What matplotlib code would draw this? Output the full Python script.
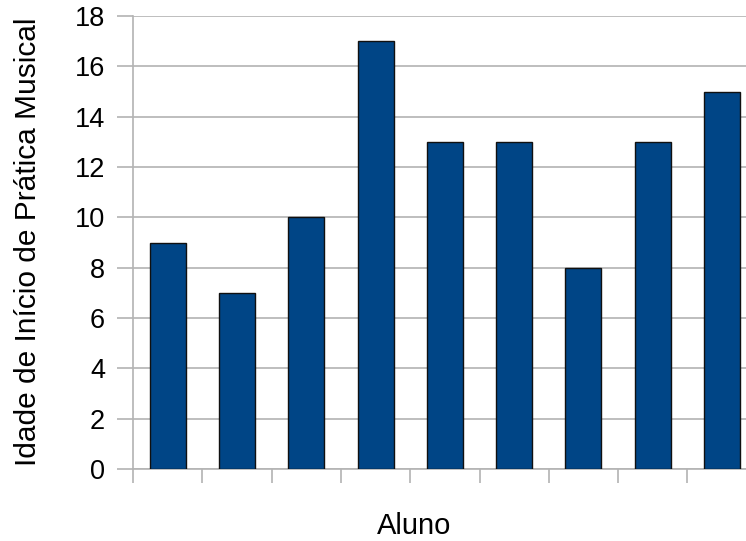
import matplotlib
matplotlib.use("Agg")
import matplotlib.pyplot as plt
import numpy as np

plt.rcParams['font.family'] = ['Liberation Sans', 'DejaVu Sans']

# Age at which each student started musical practice
alunos = ["1", "2", "3", "4", "5", "6", "7", "8", "9"]
idades = [9, 7, 10, 17, 13, 13, 8, 13, 15]
y_ticks = [0, 2, 4, 6, 8, 10, 12, 14, 16, 18]

W, H = 746, 541
fig = plt.figure(figsize=(W / 100, H / 100), dpi=100)

# Plot area (extends slightly past the right edge of the canvas)
left_px, right_px, top_px, bottom_px = 133, 756.7, 16, 469
ax = fig.add_axes([left_px / W, 1 - bottom_px / H,
                   (right_px - left_px) / W, (bottom_px - top_px) / H])

grid_c = "#b3b3b3"
x = np.arange(len(alunos))
ax.bar(x, idades, width=0.52, color="#004586", edgecolor="#101010",
       linewidth=1.0, zorder=3)

ax.set_xlim(-0.5, len(alunos) - 0.5)
ax.set_ylim(0, 18)
ax.set_yticks(y_ticks)
ax.set_yticklabels([str(v) for v in y_ticks], fontsize=19.5)
ax.yaxis.grid(True, color=grid_c, linewidth=1.2, zorder=0)

# Category boundary ticks below the axis, no labels
ax.set_xticks(np.arange(len(alunos) + 1) - 0.5)
ax.set_xticklabels([])
ax.tick_params(axis="x", direction="out", length=10, width=1.2, color=grid_c)
ax.tick_params(axis="y", direction="out", length=11.5, width=1.2,
               color=grid_c, pad=8.5)

for side in ("top", "right"):
    ax.spines[side].set_visible(False)
for side in ("left", "bottom"):
    ax.spines[side].set_color(grid_c)
    ax.spines[side].set_linewidth(1.2)

fig.text(414 / W, 1 - 534 / H, "Aluno", fontsize=21, ha="center", va="baseline")
fig.text(28.5 / W, 1 - 241.5 / H, "Idade de Início de Prática Musical",
         fontsize=21.5, rotation=90, ha="center", va="center")

fig.savefig("out.png", dpi=100)
